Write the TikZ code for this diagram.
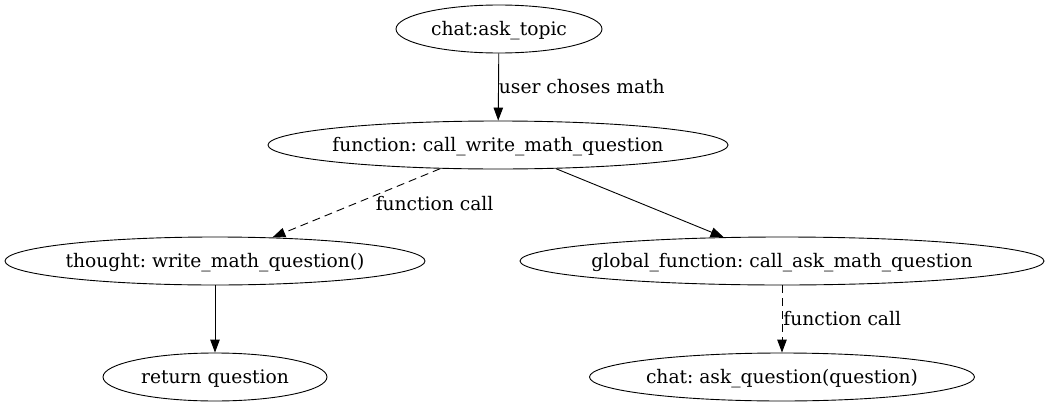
\documentclass[tikz,border=0pt]{standalone}
\usepackage{fontspec}
\setmainfont{DejaVu Serif}
\usetikzlibrary{shapes.geometric,arrows.meta}
\newcommand\gvtxt[1]{\makebox[0pt]{#1}}
\frenchspacing
\begin{document}
\begin{tikzpicture}[x=1pt,y=-1pt,
  gvnode/.style={draw, ellipse, inner sep=0pt, minimum height=48pt, line width=0.9pt,
    text height=13pt, text depth=0pt,
    font=\fontsize{18.67}{22}\selectfont},
  gvedge/.style={line width=0.9pt, -{Triangle[length=13pt,width=9.5pt]}},
  gvdash/.style={gvedge, dash pattern=on 8pt off 5pt},
  gvlabel/.style={inner sep=0pt, font=\fontsize{18.67}{22}\selectfont}]
\useasboundingbox[fill=white] (0,0) rectangle (1050,407);
\node[gvnode, minimum width=206pt] (topic) at (499,29) {\gvtxt{chat:ask\_topic}};
\node[gvnode, minimum width=460pt] (cwmq) at (498,145) {\gvtxt{function: call\_write\_math\_question}};
\node[gvnode, minimum width=420pt] (thought) at (215,261) {\gvtxt{thought: write\_math\_question()}};
\node[gvnode, minimum width=524pt] (gf) at (782,261) {\gvtxt{global\_function: call\_ask\_math\_question}};
\node[gvnode, minimum width=224pt] (ret) at (215,377) {\gvtxt{return question}};
\node[gvnode, minimum width=385pt] (askq) at (782,377) {\gvtxt{chat: ask\_question(question)}};
\draw[gvedge] (topic) -- node[gvlabel, anchor=west] {user choses math} (cwmq);
\draw[gvdash] (cwmq) -- node[gvlabel, anchor=west, xshift=19pt] {function call} (thought);
\draw[gvedge] (cwmq) -- (gf);
\draw[gvedge] (thought) -- (ret);
\draw[gvdash] (gf) -- node[gvlabel, anchor=west, xshift=1pt] {function call} (askq);
\end{tikzpicture}
\end{document}
